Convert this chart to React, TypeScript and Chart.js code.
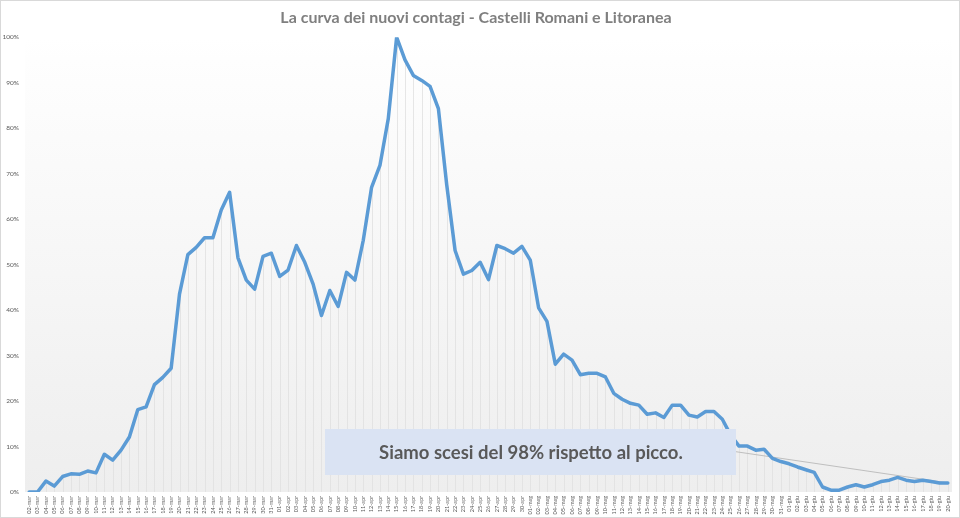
import React, { useEffect, useRef } from "react";
import { Chart, registerables } from "chart.js";

Chart.register(...registerables);

const TITLE = "La curva dei nuovi contagi - Castelli Romani e Litoranea";
const NOTE = "Siamo scesi del 98% rispetto al picco.";

const MARZO = ["02-mar","03-mar","04-mar","05-mar","06-mar","07-mar","08-mar","09-mar","10-mar","11-mar","12-mar","13-mar","14-mar","15-mar","16-mar","17-mar","18-mar","19-mar","20-mar","21-mar","22-mar","23-mar","24-mar","25-mar","26-mar","27-mar","28-mar","29-mar","30-mar","31-mar"];
const APRILE = ["01-apr","02-apr","03-apr","04-apr","05-apr","06-apr","07-apr","08-apr","09-apr","10-apr","11-apr","12-apr","13-apr","14-apr","15-apr","16-apr","17-apr","18-apr","19-apr","20-apr","21-apr","22-apr","23-apr","24-apr","25-apr","26-apr","27-apr","28-apr","29-apr","30-apr"];
const MAGGIO = ["01-mag","02-mag","03-mag","04-mag","05-mag","06-mag","07-mag","08-mag","09-mag","10-mag","11-mag","12-mag","13-mag","14-mag","15-mag","16-mag","17-mag","18-mag","19-mag","20-mag","21-mag","22-mag","23-mag","24-mag","25-mag","26-mag","27-mag","28-mag","29-mag","30-mag","31-mag"];
const GIUGNO = ["01-giu","02-giu","03-giu","04-giu","05-giu","06-giu","07-giu","08-giu","09-giu","10-giu","11-giu","12-giu","13-giu","14-giu","15-giu","16-giu","17-giu","18-giu","19-giu","20-giu"];

const DATE_LABELS = [...MARZO, ...APRILE, ...MAGGIO, ...GIUGNO];

// percentuale rispetto al picco
const CONTAGI_MARZO = [0, 0, 2.4, 1.3, 3.4, 4.0, 3.9, 4.6, 4.2, 8.3, 7.0, 9.2, 12.1, 18.1, 18.7, 23.6, 25.2, 27.2, 43.5, 52.2, 53.8, 55.9, 55.9, 62.0, 65.9, 51.5, 46.6, 44.6, 51.8, 52.5];
const CONTAGI_APRILE = [47.4, 48.8, 54.2, 50.5, 45.7, 38.8, 44.3, 40.8, 48.3, 46.6, 55.3, 67.0, 71.8, 82.1, 100, 95.0, 91.6, 90.5, 89.2, 84.3, 67.5, 53.1, 47.9, 48.7, 50.5, 46.7, 54.2, 53.5, 52.5, 54.0];
const CONTAGI_MAGGIO = [51.0, 40.5, 37.5, 28.1, 30.3, 29.0, 25.8, 26.1, 26.1, 25.3, 21.7, 20.4, 19.5, 19.1, 17.1, 17.4, 16.4, 19.1, 19.1, 16.9, 16.5, 17.7, 17.7, 16.0, 12.5, 10.1, 10.1, 9.2, 9.4, 7.4, 6.7];
const CONTAGI_GIUGNO = [6.2, 5.5, 4.9, 4.3, 1.1, 0.4, 0.4, 1.1, 1.6, 1.1, 1.6, 2.3, 2.6, 3.2, 2.6, 2.3, 2.6, 2.3, 2.0, 2.0];

const CONTAGI_PCT = [...CONTAGI_MARZO, ...CONTAGI_APRILE, ...CONTAGI_MAGGIO, ...CONTAGI_GIUGNO];

// linea di tendenza (grigia sottile)
const TREND_FROM = "24-mag";
const TREND_FROM_VALUE = 9.3;
const TREND_TO = "20-giu";
const TREND_TO_VALUE = 2.0;

const Y_MIN = 0;
const Y_MAX = 100;
const Y_STEP = 10;

const trendData = DATE_LABELS.map((d) =>
  d === TREND_FROM ? TREND_FROM_VALUE : d === TREND_TO ? TREND_TO_VALUE : null
);

const bgPlugin = {
  id: "bgPlugin",
  beforeDraw(chart: any) {
    const { ctx, chartArea, width, height } = chart;
    ctx.save();
    ctx.fillStyle = "#ffffff";
    ctx.fillRect(0, 0, width, height);
    const g = ctx.createLinearGradient(0, chartArea.top, 0, chartArea.bottom);
    g.addColorStop(0, "#ffffff");
    g.addColorStop(0.1, "#fdfdfd");
    g.addColorStop(1, "#eeeeee");
    ctx.fillStyle = g;
    ctx.fillRect(chartArea.left, chartArea.top, chartArea.right - chartArea.left, chartArea.bottom - chartArea.top);
    ctx.strokeStyle = "#d9d9d9";
    ctx.lineWidth = 1;
    ctx.strokeRect(0.5, 0.5, width - 1, height - 1);
    ctx.restore();
  },
};

const dropLinesPlugin = {
  id: "dropLines",
  beforeDatasetsDraw(chart: any) {
    const meta = chart.getDatasetMeta(0);
    const { ctx, chartArea } = chart;
    ctx.save();
    ctx.strokeStyle = "#dfdfdf";
    ctx.lineWidth = 0.8;
    meta.data.forEach((p: any) => {
      ctx.beginPath();
      ctx.moveTo(Math.round(p.x) + 0.5, p.y);
      ctx.lineTo(Math.round(p.x) + 0.5, chartArea.bottom);
      ctx.stroke();
    });
    ctx.restore();
  },
};

const noteBoxPlugin = {
  id: "noteBox",
  afterDraw(chart: any) {
    const { ctx } = chart;
    const x0 = 325, y0 = 429, w = 411, h = 46;
    ctx.save();
    ctx.fillStyle = "#dae3f3";
    ctx.fillRect(x0, y0, w, h);
    ctx.fillStyle = "#595959";
    ctx.font = "bold 18.5px Lato";
    ctx.textAlign = "center";
    ctx.textBaseline = "middle";
    ctx.fillText(NOTE, x0 + w / 2 + 0.5, y0 + h / 2 + 1);
    ctx.restore();
  },
};

export default function App() {
  const canvasRef = useRef<HTMLCanvasElement | null>(null);

  useEffect(() => {
    const prevMargin = document.body.style.margin;
    document.body.style.margin = "0";
    const canvas = canvasRef.current;
    if (!canvas) return;
    const chart = new Chart(canvas, {
      type: "line",
      data: {
        labels: DATE_LABELS,
        datasets: [
          {
            label: "Nuovi contagi",
            data: CONTAGI_PCT,
            borderColor: "#5b9bd5",
            borderWidth: 3.5,
            pointRadius: 0,
            tension: 0,
            fill: false,
            borderJoinStyle: "round",
            borderCapStyle: "round",
          },
          {
            label: "Tendenza",
            data: trendData,
            borderColor: "#bfbfbf",
            borderWidth: 1,
            pointRadius: 0,
            spanGaps: true,
            fill: false,
          },
        ],
      },
      options: {
        animation: false,
        responsive: true,
        maintainAspectRatio: false,
        layout: { padding: { left: 0, right: 8, top: 0, bottom: 0 } },
        plugins: {
          legend: { display: false },
          tooltip: { enabled: false },
          title: {
            display: true,
            text: TITLE,
            color: "#7f7f7f",
            font: { family: "Lato", size: 16, weight: "bold" },
            padding: { top: 8, bottom: 10 },
          },
        },
        scales: {
          x: {
            type: "category",
            offset: true,
            grid: { display: false, drawTicks: false },
            border: { display: false },
            ticks: {
              autoSkip: false,
              minRotation: 90,
              maxRotation: 90,
              padding: 4,
              color: "#595959",
              font: { family: "Lato", size: 5.5 },
            },
            afterFit(scale: any) {
              scale.height = 26;
            },
          },
          y: {
            min: Y_MIN,
            max: Y_MAX,
            grid: { display: false, drawTicks: false },
            border: { display: false },
            ticks: {
              stepSize: Y_STEP,
              padding: 6,
              color: "#595959",
              font: { family: "Lato", size: 6.5 },
              callback: (v: any) => `${v}%`,
            },
            afterFit(scale: any) {
              scale.width = 25;
            },
          },
        },
      },
      plugins: [bgPlugin, dropLinesPlugin, noteBoxPlugin],
    });
    return () => {
      chart.destroy();
      document.body.style.margin = prevMargin;
    };
  }, []);

  return (
    <div style={{ position: "fixed", left: 0, top: 0, width: 960, height: 518 }}>
      <canvas ref={canvasRef} />
    </div>
  );
}
